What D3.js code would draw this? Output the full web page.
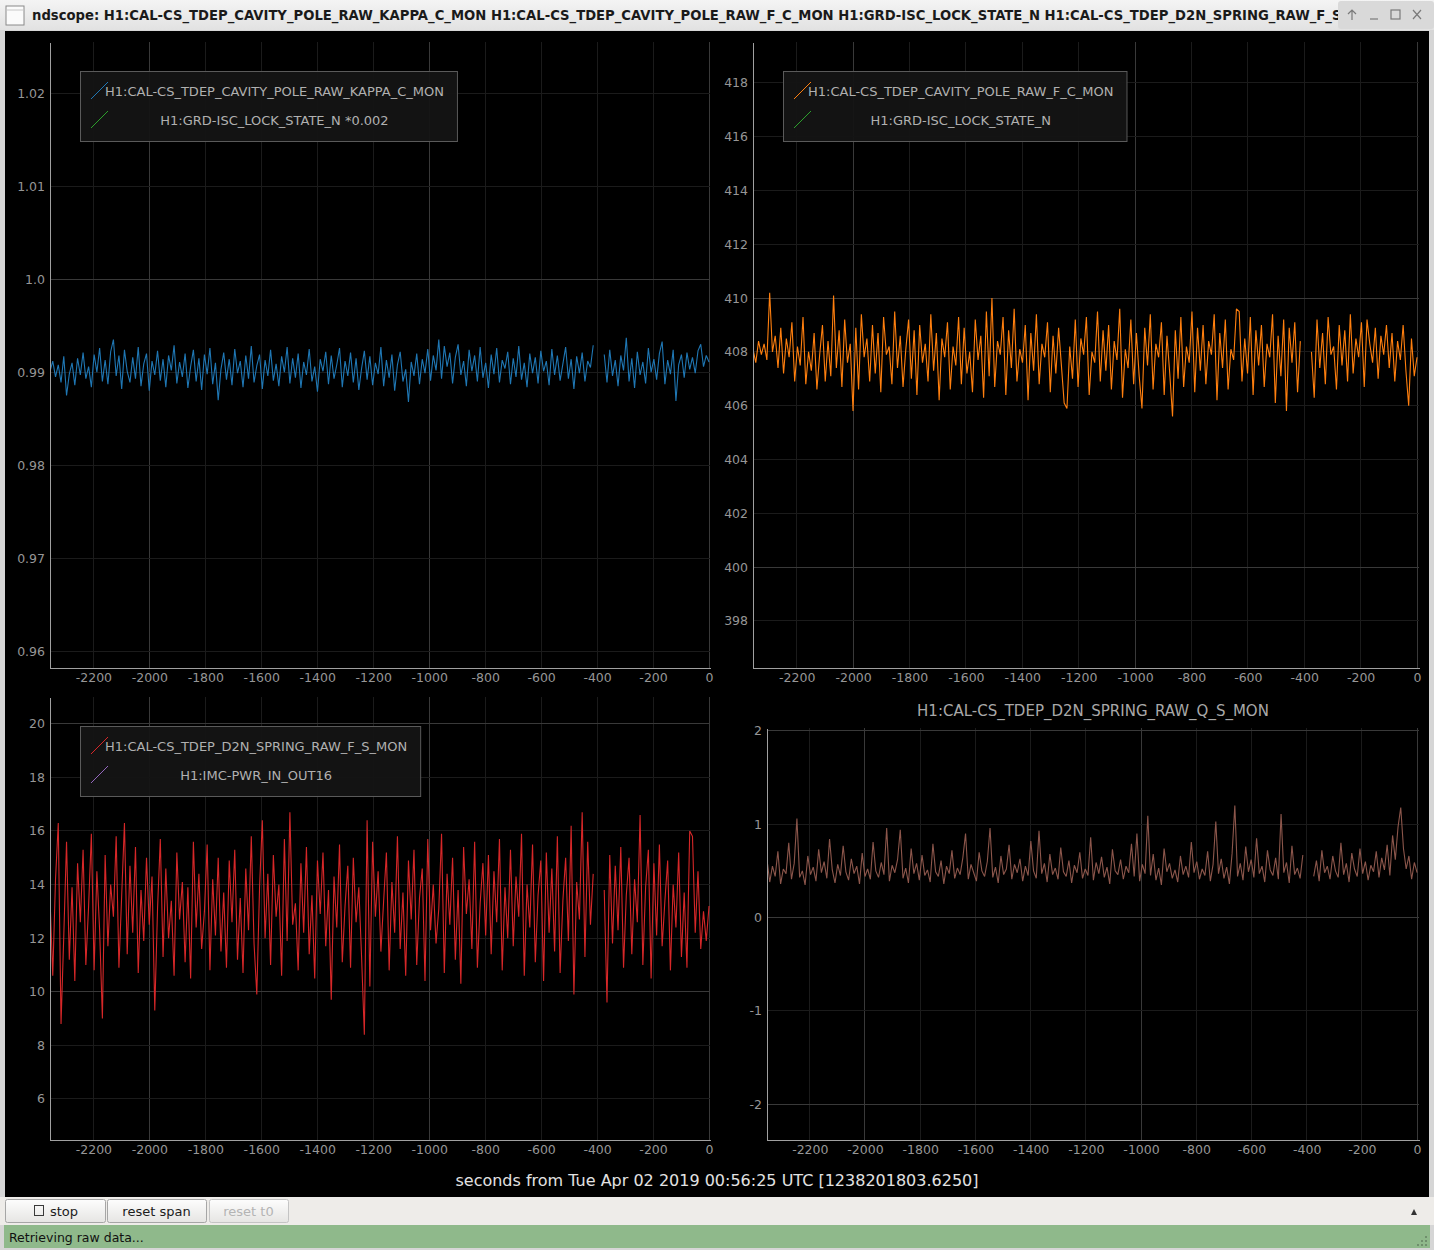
<!DOCTYPE html>
<html>
<head>
<meta charset="utf-8">
<script src="https://cdnjs.cloudflare.com/ajax/libs/d3/7.8.5/d3.min.js"></script>
<style>
  body { margin: 0; background: #d8d8d8; }
  svg { display: block; font-family: "DejaVu Sans", sans-serif; }
</style>
</head>
<body>
<svg id="scope" width="1434" height="1250"></svg>
<script>
// sample window: seconds relative to t0, one value per sample, null = no data
var tStart = -2355, tEnd = 0;

var kappaC = [
  0.9901,0.9912,0.9895,0.9908,0.9889,0.9917,0.9875,0.9898,0.9910,0.9886,
  0.9915,0.9897,0.9921,0.9893,0.9906,0.9884,0.9919,0.9900,0.9926,0.9890,
  0.9913,0.9887,0.9922,0.9935,0.9896,0.9918,0.9882,0.9924,0.9901,0.9889,
  0.9916,0.9893,0.9927,0.9885,0.9909,0.9920,0.9880,0.9912,0.9897,0.9923,
  0.9891,0.9914,0.9884,0.9918,0.9902,0.9929,0.9888,0.9911,0.9895,0.9920,
  0.9883,0.9906,0.9924,0.9890,0.9915,0.9881,0.9919,0.9898,0.9926,0.9887,
  0.9910,0.9870,0.9903,0.9921,0.9892,0.9914,0.9886,0.9925,0.9899,0.9912,
  0.9884,0.9918,0.9893,0.9928,0.9889,0.9907,0.9919,0.9882,0.9913,0.9896,
  0.9924,0.9891,0.9909,0.9885,0.9917,0.9900,0.9927,0.9888,0.9915,0.9894,
  0.9920,0.9883,0.9911,0.9897,0.9925,0.9890,0.9906,0.9879,0.9914,0.9901,
  0.9922,0.9887,0.9918,0.9893,0.9908,0.9926,0.9884,0.9912,0.9896,0.9921,
  0.9889,0.9915,0.9881,0.9904,0.9923,0.9892,0.9917,0.9886,0.9910,0.9898,
  0.9927,0.9885,0.9913,0.9894,0.9919,0.9880,0.9908,0.9922,0.9890,0.9903,
  0.9868,0.9911,0.9896,0.9920,0.9887,0.9914,0.9899,0.9925,0.9891,0.9918,
  0.9902,0.9935,0.9893,0.9928,0.9906,0.9921,0.9888,0.9916,0.9930,0.9897,
  0.9912,0.9885,0.9924,0.9901,0.9918,0.9890,0.9927,0.9894,0.9910,0.9883,
  0.9919,0.9898,0.9926,0.9889,0.9913,0.9904,0.9922,0.9887,0.9915,0.9895,
  0.9928,0.9892,0.9910,0.9884,0.9920,0.9899,0.9916,0.9888,0.9923,0.9901,
  0.9912,0.9886,0.9925,0.9897,0.9918,0.9891,0.9909,0.9927,0.9893,0.9914,
  0.9882,0.9917,0.9899,0.9921,0.9890,0.9912,0.9905,0.9929,null,null,
  null,0.9919,0.9889,0.9924,0.9896,0.9913,0.9885,0.9918,0.9902,0.9937,
  0.9890,0.9915,0.9883,0.9922,0.9897,0.9911,0.9888,0.9926,0.9900,0.9914,
  0.9892,0.9920,0.9933,0.9887,0.9913,0.9898,0.9924,0.9869,0.9908,0.9919,
  0.9894,0.9921,0.9903,0.9916,0.9899,0.9923,0.9930,0.9906,0.9918,0.9911
];

var fC = [
  408.1,407.6,408.4,407.9,408.3,407.7,410.2,408.0,408.6,407.4,
  408.9,407.2,408.5,407.8,409.1,406.9,408.2,407.5,409.3,406.8,
  408.0,407.3,408.7,406.6,407.9,409.0,406.9,408.4,407.1,410.1,
  407.4,408.8,406.7,409.2,407.6,408.3,405.8,408.9,406.6,409.4,
  407.8,408.5,406.9,409.0,407.2,408.7,406.5,409.3,407.9,408.2,
  406.8,409.5,407.4,408.6,406.7,408.1,409.2,407.0,408.8,406.4,
  409.0,407.6,408.3,406.9,409.4,407.3,408.7,406.2,408.5,407.8,
  409.1,406.6,408.2,407.5,409.3,406.8,408.9,407.2,408.0,406.5,
  409.2,407.7,408.6,406.3,409.5,407.1,410.0,406.7,408.4,407.9,
  409.3,406.4,408.8,407.4,409.6,406.9,408.1,407.6,409.0,406.2,
  408.7,407.3,409.4,406.8,408.3,407.8,409.1,406.5,408.6,407.2,
  408.9,407.5,406.1,405.9,408.2,407.0,409.2,406.7,408.5,407.9,
  409.3,406.4,408.0,407.6,409.5,406.9,408.8,407.3,409.0,406.6,
  408.4,407.7,409.6,406.3,408.1,407.4,409.2,406.8,408.7,407.1,
  405.9,408.9,407.5,409.4,406.6,408.3,407.8,409.1,406.4,408.6,
  407.2,405.6,408.8,407.0,409.3,406.7,408.2,407.6,409.5,406.5,
  408.9,407.3,409.0,406.8,408.4,407.9,409.4,406.2,408.7,407.4,
  409.2,406.6,408.1,407.7,409.6,409.5,406.9,408.5,407.2,409.3,
  406.4,408.8,407.5,409.0,406.7,408.3,407.8,409.4,406.1,408.6,
  407.1,409.2,405.8,408.9,407.6,409.1,406.5,408.4,null,null,
  null,408.0,406.3,409.2,407.4,408.7,406.8,409.3,407.9,408.2,
  406.6,409.0,407.5,408.8,406.9,409.4,407.2,408.5,407.8,409.1,
  406.7,409.2,408.3,407.6,408.9,407.0,408.6,407.9,409.0,407.4,
  408.7,406.9,408.4,407.7,409.0,407.3,406.0,408.5,407.1,407.8
];

var fS = [
  13.5,10.6,14.2,16.3,8.8,12.1,15.6,11.2,13.9,10.4,
  14.8,12.6,15.3,11.0,13.2,15.9,10.8,14.5,12.3,9.0,
  15.1,11.7,14.0,12.8,15.8,10.9,13.6,16.3,11.4,14.7,
  12.2,15.4,10.7,13.8,11.9,15.0,12.5,14.3,9.3,13.1,
  15.7,11.3,14.6,12.0,13.4,10.6,15.2,12.7,14.1,11.1,
  13.9,10.5,15.6,12.4,14.4,11.6,13.0,15.5,10.8,14.2,
  12.1,15.0,11.5,13.7,10.9,14.9,12.6,15.3,11.2,13.5,
  10.7,14.6,12.3,15.8,11.8,9.9,13.9,16.4,12.0,14.4,
  11.0,15.1,12.8,14.0,10.6,15.7,11.9,16.7,12.5,13.3,
  10.8,14.8,12.2,15.4,11.4,13.6,10.5,14.9,12.9,15.2,
  11.7,13.8,9.7,14.3,12.4,15.5,11.1,13.2,14.7,10.9,
  15.0,12.6,13.9,11.3,8.4,16.4,10.2,15.6,12.8,14.5,
  11.5,13.4,15.2,10.8,14.1,12.2,15.8,11.6,13.7,10.6,
  14.9,12.7,15.3,11.0,13.5,14.6,10.4,15.7,12.3,14.0,
  11.8,13.1,15.9,10.7,14.4,12.5,15.0,11.2,13.8,10.3,
  15.4,12.9,14.2,11.6,15.6,10.9,13.3,14.8,12.1,15.1,
  11.4,14.5,12.6,15.7,10.8,13.9,12.0,15.3,11.7,14.3,
  12.8,15.9,10.6,14.0,12.4,15.5,11.1,13.6,14.9,10.4,
  15.2,12.2,14.6,11.5,15.8,10.7,13.4,15.0,11.9,16.2,
  9.9,14.1,12.7,16.7,11.3,15.6,12.5,14.4,null,null,
  null,13.8,9.6,15.1,11.8,14.7,12.3,15.4,10.9,13.6,
  15.0,11.4,14.2,12.6,16.6,11.0,13.9,15.3,10.5,14.8,
  12.1,15.5,11.7,13.4,14.9,10.8,14.0,12.4,15.2,11.3,
  13.7,10.9,16.0,15.8,12.2,14.5,11.6,13.0,11.9,13.2
];

var qS = [
  0.62,0.38,0.55,0.44,0.71,0.36,0.52,0.47,0.80,0.41,
  0.58,1.06,0.43,0.50,0.35,0.66,0.46,0.54,0.39,0.73,
  0.48,0.60,0.42,0.84,0.51,0.37,0.57,0.45,0.77,0.49,
  0.40,0.63,0.47,0.55,0.36,0.69,0.44,0.52,0.41,0.81,
  0.50,0.43,0.59,0.46,0.96,0.39,0.56,0.48,0.62,0.94,
  0.42,0.53,0.37,0.74,0.47,0.58,0.40,0.67,0.45,0.51,
  0.38,0.79,0.49,0.44,0.61,0.36,0.55,0.47,0.72,0.42,
  0.53,0.46,0.64,0.90,0.41,0.57,0.48,0.39,0.70,0.50,
  0.44,0.60,0.96,0.43,0.54,0.37,0.66,0.46,0.52,0.78,
  0.41,0.57,0.48,0.63,0.39,0.55,0.45,0.82,0.50,0.42,
  0.93,0.47,0.58,0.38,0.68,0.46,0.53,0.41,0.75,0.49,
  0.44,0.61,0.37,0.56,0.48,0.70,0.42,0.52,0.45,0.86,
  0.40,0.59,0.47,0.65,0.43,0.54,0.36,0.73,0.50,0.46,
  0.62,0.41,0.55,0.48,0.79,0.44,0.90,0.39,0.57,0.47,
  1.09,0.45,0.68,0.40,0.53,0.35,0.74,0.49,0.58,0.42,
  0.51,0.38,0.66,0.46,0.55,0.43,0.81,0.48,0.60,0.41,
  0.52,0.45,0.71,0.39,0.57,1.03,0.47,0.63,0.42,0.54,
  0.36,0.69,1.20,0.44,0.58,0.40,0.76,0.49,0.62,0.43,
  0.85,0.47,0.55,0.38,0.72,0.51,0.45,0.64,0.41,1.11,
  0.48,0.59,0.37,0.77,0.46,0.53,0.42,0.67,null,null,
  null,0.44,0.61,0.39,0.72,0.48,0.55,0.41,0.66,0.50,
  0.43,0.80,0.46,0.58,0.38,0.69,0.52,0.44,0.74,0.47,
  0.60,0.40,0.56,0.49,0.71,0.43,0.64,0.51,0.78,0.45,
  0.88,0.62,0.97,1.18,0.74,0.52,0.66,0.41,0.59,0.48
];

// tick values and labels
var xTicks = [-2200,-2000,-1800,-1600,-1400,-1200,-1000,-800,-600,-400,-200,0];
var xMajor = [-2000,-1000,0];
var kappaTicks = [0.96,0.97,0.98,0.99,1.0,1.01,1.02];
var kappaLabels = ["0.96","0.97","0.98","0.99","1.0","1.01","1.02"];
var fcTicks = [398,400,402,404,406,408,410,412,414,416,418];
var fsTicks = [6,8,10,12,14,16,18,20];
var qsTicks = [-2,-1,0,1,2];

var chanKappa = "H1:CAL-CS_TDEP_CAVITY_POLE_RAW_KAPPA_C_MON";
var chanFC = "H1:CAL-CS_TDEP_CAVITY_POLE_RAW_F_C_MON";
var chanGrd = "H1:GRD-ISC_LOCK_STATE_N";
var chanFS = "H1:CAL-CS_TDEP_D2N_SPRING_RAW_F_S_MON";
var chanImc = "H1:IMC-PWR_IN_OUT16";
var chanQS = "H1:CAL-CS_TDEP_D2N_SPRING_RAW_Q_S_MON";

var colors = d3.schemeCategory10;
var svg = d3.select("#scope");
var N = kappaC.length;
var times = d3.range(N).map(function(i) { return tStart + i * (tEnd - tStart) / (N - 1); });
var plain = function(d) { return String(d); };

// ---- window chrome ----
var defs = svg.append("defs");
var tb = defs.append("linearGradient").attr("id", "tb").attr("x1", 0).attr("y1", 0).attr("x2", 0).attr("y2", 1);
tb.append("stop").attr("offset", 0).attr("stop-color", "#f4f4f4");
tb.append("stop").attr("offset", 1).attr("stop-color", "#e2e2e2");
var bg = defs.append("linearGradient").attr("id", "btn").attr("x1", 0).attr("y1", 0).attr("x2", 0).attr("y2", 1);
bg.append("stop").attr("offset", 0).attr("stop-color", "#fdfdfd");
bg.append("stop").attr("offset", 1).attr("stop-color", "#e6e5e3");
defs.append("clipPath").attr("id", "clip-title").append("rect")
  .attr("x", 0).attr("y", 0).attr("width", 1338).attr("height", 30);

svg.append("rect").attr("width", 1434).attr("height", 1250).attr("fill", "#d6d6d6");
svg.append("rect").attr("width", 1434).attr("height", 30).attr("fill", "url(#tb)");
svg.append("rect").attr("x", 6).attr("y", 6).attr("width", 18).attr("height", 19)
  .attr("fill", "#fbfbfb").attr("stroke", "#8a8a8a");
svg.append("line").attr("x1", 7).attr("x2", 23).attr("y1", 10).attr("y2", 10).attr("stroke", "#c8c8c8");
svg.append("g").attr("clip-path", "url(#clip-title)")
  .append("text").attr("x", 32).attr("y", 20).attr("font-size", 13.2).attr("font-weight", "bold")
  .attr("fill", "#1a1a1a")
  .text("ndscope: " + [chanKappa, chanFC, chanGrd, chanFS, chanQS].join(" "));
svg.append("rect").attr("x", 1338).attr("y", 1).attr("width", 96).attr("height", 28)
  .attr("fill", "#d9d9d9").attr("rx", 3);
var wb = svg.append("g").attr("stroke", "#7a7a7a").attr("fill", "none").attr("stroke-width", 1.2);
wb.append("path").attr("d", "M1352,20V10M1348,14L1352,10L1356,14");
wb.append("path").attr("d", "M1370,19H1378");
wb.append("rect").attr("x", 1391).attr("y", 10).attr("width", 9).attr("height", 9);
wb.append("path").attr("d", "M1413,10L1421,19M1421,10L1413,19");

// plotting area
svg.append("rect").attr("x", 5).attr("y", 31).attr("width", 1424).attr("height", 1166).attr("fill", "#000");

// ---- panels ----
var panels = [
  { id: "p1", x0: 50, x1: 710, y0: 42, y1: 668, tDom: [-2355, 3.5], yDom: [0.9582, 1.0255],
    values: kappaC, color: colors[0], yTicks: kappaTicks, yLabels: kappaLabels, yMajor: [1.0],
    legend: [{ name: chanKappa, color: colors[0] }, { name: chanGrd + " *0.002", color: colors[2] }] },
  { id: "p2", x0: 753, x1: 1419, y0: 42, y1: 668, tDom: [-2355, 7], yDom: [396.25, 419.52],
    values: fC, color: colors[1], yTicks: fcTicks, yMajor: [400, 410],
    legend: [{ name: chanFC, color: colors[1] }, { name: chanGrd, color: colors[2] }] },
  { id: "p3", x0: 50, x1: 710, y0: 697, y1: 1140, tDom: [-2355, 3.5], yDom: [4.47, 21.0],
    values: fS, color: colors[3], yTicks: fsTicks, yMajor: [10, 20],
    legend: [{ name: chanFS, color: colors[3] }, { name: chanImc, color: colors[4] }] },
  { id: "p4", x0: 767, x1: 1419, y0: 728, y1: 1140, tDom: [-2355, 7], yDom: [-2.386, 2.032],
    values: qS, color: colors[5], yTicks: qsTicks, yMajor: [-2, 0, 2], title: chanQS }
];

panels.forEach(function(p) {
  var x = d3.scaleLinear().domain(p.tDom).range([p.x0, p.x1]);
  var y = d3.scaleLinear().domain(p.yDom).range([p.y1, p.y0]);
  var g = svg.append("g");

  defs.append("clipPath").attr("id", "clip-" + p.id).append("rect")
    .attr("x", p.x0).attr("y", p.y0).attr("width", p.x1 - p.x0).attr("height", p.y1 - p.y0);

  var isMajorX = function(d) { return xMajor.indexOf(d) >= 0; };
  var isMajorY = function(d) { return p.yMajor.some(function(m) { return Math.abs(m - d) < 1e-9; }); };

  g.append("g").attr("shape-rendering", "crispEdges").selectAll("line")
    .data(xTicks).join("line")
    .attr("x1", function(d) { return x(d); }).attr("x2", function(d) { return x(d); })
    .attr("y1", p.y0).attr("y2", p.y1)
    .attr("stroke", function(d) { return isMajorX(d) ? "#393939" : "#1b1b1b"; });
  g.append("g").attr("shape-rendering", "crispEdges").selectAll("line")
    .data(p.yTicks).join("line")
    .attr("x1", p.x0).attr("x2", p.x1)
    .attr("y1", function(d) { return y(d); }).attr("y2", function(d) { return y(d); })
    .attr("stroke", function(d) { return isMajorY(d) ? "#393939" : "#1b1b1b"; });

  var pts = times.map(function(t, i) { return { t: t, v: p.values[i] }; });
  var line = d3.line()
    .defined(function(d) { return d.v != null; })
    .x(function(d) { return x(d.t); })
    .y(function(d) { return y(d.v); });
  g.append("path").datum(pts)
    .attr("clip-path", "url(#clip-" + p.id + ")")
    .attr("fill", "none").attr("stroke", p.color).attr("stroke-width", 1.1)
    .attr("stroke-linejoin", "miter").attr("stroke-miterlimit", 2)
    .attr("d", line);

  var xAxis = d3.axisBottom(x).tickValues(xTicks).tickSize(0).tickPadding(5).tickFormat(plain);
  var yAxis = d3.axisLeft(y).tickValues(p.yTicks).tickSize(0).tickPadding(5)
    .tickFormat(function(d, i) { return p.yLabels ? p.yLabels[i] : String(d); });
  [g.append("g").attr("transform", "translate(0," + p.y1 + ")").call(xAxis),
   g.append("g").attr("transform", "translate(" + p.x0 + ",0)").call(yAxis)].forEach(function(a) {
    a.attr("font-family", "DejaVu Sans").attr("font-size", 12.5);
    a.select(".domain").attr("stroke", "#a0a0a0").attr("shape-rendering", "crispEdges");
    a.selectAll("text").attr("fill", "#969696");
  });

  if (p.title) {
    g.append("text").attr("x", (p.x0 + p.x1) / 2).attr("y", p.y0 - 12)
      .attr("text-anchor", "middle").attr("font-size", 15).attr("fill", "#a8a8a8").text(p.title);
  }

  if (p.legend) {
    var lx = p.x0 + 30, ly = p.y0 + 29;
    var lg = g.append("g");
    var box = lg.append("rect").attr("x", lx + 0.5).attr("y", ly + 0.5).attr("height", 70)
      .attr("fill", "#141414").attr("fill-opacity", 0.95).attr("stroke", "#5a5a5a");
    var first = lg.append("text").attr("x", lx + 25).attr("y", ly + 20).attr("dy", "0.36em")
      .attr("font-size", 13).attr("fill", "#b0b0b0").text(p.legend[0].name);
    var w = first.node().getComputedTextLength();
    box.attr("width", w + 38);
    p.legend.forEach(function(e, i) {
      var cy = ly + 20 + i * 29;
      lg.append("line").attr("x1", lx + 11).attr("y1", cy + 8).attr("x2", lx + 28).attr("y2", cy - 9)
        .attr("stroke", e.color).attr("stroke-width", 1);
      if (i > 0) {
        lg.append("text").attr("x", lx + 25 + w / 2).attr("y", cy).attr("dy", "0.36em")
          .attr("text-anchor", "middle").attr("font-size", 13).attr("fill", "#b0b0b0").text(e.name);
      }
    });
  }
});

svg.append("text").attr("x", 717).attr("y", 1180).attr("dy", "0.36em").attr("text-anchor", "middle")
  .attr("font-size", 16).attr("fill", "#e2e2e2")
  .text("seconds from Tue Apr 02 2019 00:56:25 UTC [1238201803.6250]");

// ---- control bar ----
svg.append("rect").attr("x", 0).attr("y", 1197).attr("width", 1434).attr("height", 28).attr("fill", "#eeece9");
var buttons = [
  { label: "stop", x: 5, w: 100, enabled: true, box: true },
  { label: "reset span", x: 107, w: 99, enabled: true },
  { label: "reset t0", x: 209, w: 79, enabled: false }
];
buttons.forEach(function(b) {
  svg.append("rect").attr("x", b.x + 0.5).attr("y", 1199.5).attr("width", b.w).attr("height", 23)
    .attr("rx", 2).attr("fill", "url(#btn)").attr("stroke", b.enabled ? "#a6a6a6" : "#c4c4c4");
  var cx = b.x + b.w / 2 + (b.box ? 9 : 0);
  svg.append("text").attr("x", cx).attr("y", 1211).attr("dy", "0.36em").attr("text-anchor", "middle")
    .attr("font-size", 13).attr("fill", b.enabled ? "#1c1c1c" : "#b4b4b4").text(b.label);
  if (b.box) {
    svg.append("rect").attr("x", 34.5).attr("y", 1205.5).attr("width", 9).attr("height", 10)
      .attr("fill", "none").attr("stroke", "#3a3a3a");
  }
});
svg.append("path").attr("d", "M1411,1215L1414,1209L1417,1215Z").attr("fill", "#333");

// ---- status bar ----
svg.append("rect").attr("x", 4).attr("y", 1225).attr("width", 1426).attr("height", 23).attr("fill", "#8fb98b");
svg.append("text").attr("x", 9).attr("y", 1237).attr("dy", "0.36em").attr("font-size", 12.5)
  .attr("fill", "#111").text("Retrieving raw data...");
var grip = [[1425, 1244], [1421, 1244], [1417, 1244], [1425, 1240], [1421, 1240], [1425, 1236]];
svg.append("g").selectAll("rect").data(grip).join("rect")
  .attr("x", function(d) { return d[0]; }).attr("y", function(d) { return d[1]; })
  .attr("width", 2).attr("height", 2).attr("fill", "#6f8f6c");
</script>
</body>
</html>
